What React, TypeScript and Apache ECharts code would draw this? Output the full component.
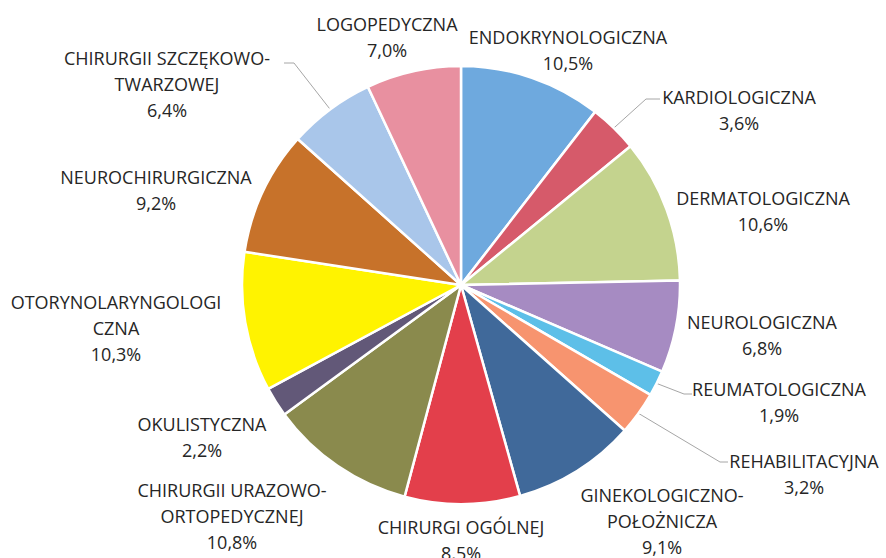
import React, { useEffect, useRef } from "react";
import * as echarts from "echarts";

const categories: string[] = [
  "ENDOKRYNOLOGICZNA",
  "KARDIOLOGICZNA",
  "DERMATOLOGICZNA",
  "NEUROLOGICZNA",
  "REUMATOLOGICZNA",
  "REHABILITACYJNA",
  "GINEKOLOGICZNO-\nPOŁOŻNICZA",
  "CHIRURGI OGÓLNEJ",
  "CHIRURGII URAZOWO-\nORTOPEDYCZNEJ",
  "OKULISTYCZNA",
  "OTORYNOLARYNGOLOGI\nCZNA",
  "NEUROCHIRURGICZNA",
  "CHIRURGII SZCZĘKOWO-\nTWARZOWEJ",
  "LOGOPEDYCZNA",
];

const values: number[] = [10.5, 3.6, 10.6, 6.8, 1.9, 3.2, 9.1, 8.5, 10.8, 2.2, 10.3, 9.2, 6.4, 7.0];

const colors: string[] = [
  "#6EA9DE",
  "#D65A6A",
  "#C4D38E",
  "#A68BC2",
  "#5DBFE8",
  "#F7946F",
  "#40699A",
  "#E33F4B",
  "#8A8A4D",
  "#625878",
  "#FFF300",
  "#C7722A",
  "#A9C6EA",
  "#E890A0",
];

// label block centres (layout only)
const labelPos: [number, number][] = [
  [568, 50],
  [739, 110],
  [763, 211],
  [762, 335],
  [779, 402],
  [804, 474],
  [662, 521],
  [461, 540],
  [232, 516],
  [202, 437],
  [116, 328],
  [156, 190],
  [167, 84],
  [387, 37],
];

// leader lines: [bend, end] for labels that have one
const leaders: Record<number, [number, number][]> = {
  1: [[646, 99], [660, 99]],
  4: [[684, 394], [692, 394]],
  5: [[720, 462], [728, 462]],
  12: [[294, 63], [284, 63]],
};

export default function App() {
  const ref = useRef<HTMLDivElement>(null);
  useEffect(() => {
    document.body.style.margin = "0";
    const chart = echarts.init(ref.current!, undefined, { renderer: "svg" });
    chart.setOption({
      animation: false,
      backgroundColor: "#ffffff",
      series: [
        {
          type: "pie",
          center: [461, 285],
          radius: 219,
          startAngle: 90,
          clockwise: true,
          avoidLabelOverlap: false,
          itemStyle: { borderColor: "#ffffff", borderWidth: 2.5 },
          label: {
            show: true,
            position: "outside",
            fontFamily: "Open Sans",
            fontSize: 18,
            lineHeight: 26,
            color: "#262626",
            align: "center",
            formatter: (p: any) => `${p.name}\n${p.value.toFixed(1).replace(".", ",")}%`,
          },
          labelLine: {
            show: false,
            lineStyle: { color: "#A6A6A6", width: 1 },
          },
          labelLayout: (params: any) => {
            const i = params.dataIndex;
            const [x, y] = labelPos[i];
            const res: any = { x, y, align: "center", verticalAlign: "middle" };
            if (leaders[i] && params.labelLinePoints) {
              const start = params.labelLinePoints[0];
              res.labelLinePoints = [start, leaders[i][0], leaders[i][1]];
            }
            return res;
          },
          data: categories.map((name, i) => ({
            name,
            value: values[i],
            itemStyle: { color: colors[i] },
            labelLine: { show: leaders[i] !== undefined },
          })),
        },
      ],
    });
    return () => chart.dispose();
  }, []);
  return <div ref={ref} style={{ width: 886, height: 558 }} />;
}
